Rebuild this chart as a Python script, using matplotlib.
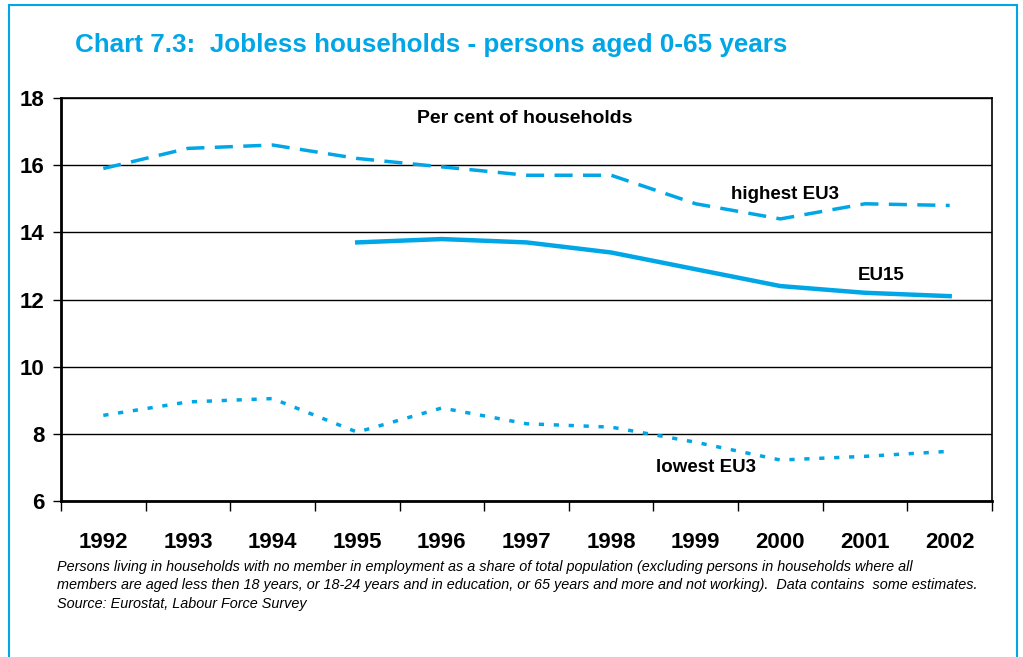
import matplotlib.pyplot as plt
from matplotlib.patches import Rectangle

years = ["1992", "1993", "1994", "1995", "1996", "1997", "1998", "1999", "2000", "2001", "2002"]
highest_eu3 = [15.9, 16.5, 16.6, 16.2, 15.95, 15.7, 15.7, 14.85, 14.4, 14.85, 14.8]
eu15 = [None, None, None, 13.7, 13.8, 13.7, 13.4, 12.9, 12.4, 12.2, 12.1]
lowest_eu3 = [8.55, 8.95, 9.05, 8.05, 8.77, 8.3, 8.2, 7.75, 7.22, 7.33, 7.48]

blue = "#00a6e6"
font = ["Liberation Sans", "DejaVu Sans"]

fig = plt.figure(figsize=(10.23, 6.57), dpi=100)
ax = fig.add_axes([61 / 1023, 1 - 501 / 657, 931 / 1023, 403 / 657])

x = list(range(len(years)))
eu15_x = [i for i, v in zip(x, eu15) if v is not None]
eu15_y = [v for v in eu15 if v is not None]

ax.plot(x, highest_eu3, color=blue, lw=2.5, dashes=(5.2, 3))
ax.plot(eu15_x, eu15_y, color=blue, lw=3.2)
ax.plot(x, lowest_eu3, color=blue, lw=2.5, dashes=(1.5, 2.8))

ax.set_xlim(-0.5, len(years) - 0.5)
ax.set_ylim(6, 18)
ax.set_yticks([6, 8, 10, 12, 14, 16, 18])
ax.set_xticks([i - 0.5 for i in range(len(years) + 1)], minor=False)
ax.set_xticklabels([])
ax.set_xticks(x, minor=True)
ax.set_xticklabels(years, minor=True)
ax.tick_params(axis="x", which="minor", length=0, pad=22)
ax.tick_params(axis="x", which="major", length=7, width=1, direction="out")
ax.tick_params(axis="y", length=6, width=1, direction="out", pad=6)
for lab in ax.get_xticklabels(minor=True) + ax.get_yticklabels():
    lab.set_fontweight("bold")
    lab.set_fontsize(16)
    lab.set_family(font)

ax.grid(axis="y", color="black", lw=1)
ax.set_axisbelow(True)
for s in ax.spines.values():
    s.set_linewidth(1.2)
ax.spines["left"].set_linewidth(2)
ax.spines["bottom"].set_linewidth(2)

ax.text(4.98, 17.4, "Per cent of households", ha="center", va="center",
        fontsize=14, fontweight="bold", family=font)
ax.text(8.05, 15.14, "highest EU3", ha="center", va="center",
        fontsize=13.5, fontweight="bold", family=font)
ax.text(9.19, 12.7, "EU15", ha="center", va="center",
        fontsize=13.5, fontweight="bold", family=font)
ax.text(7.12, 6.99, "lowest EU3", ha="center", va="center",
        fontsize=13.5, fontweight="bold", family=font)

fig.text(75 / 1023, 1 - 45 / 657, "Chart 7.3:  Jobless households - persons aged 0-65 years",
         color=blue, fontsize=18.7, fontweight="bold", family=font, va="center")

note = ("Persons living in households with no member in employment as a share of total population (excluding persons in households where all\n"
        "members are aged less then 18 years, or 18-24 years and in education, or 65 years and more and not working).  Data contains  some estimates.\n"
        "Source: Eurostat, Labour Force Survey")
fig.text(57 / 1023, 1 - 560 / 657, note, fontsize=10.4, style="italic", family=font,
         va="top", linespacing=1.4)

fig.patches.append(Rectangle((9 / 1023, -0.05), 1008 / 1023, 1.05 - 5 / 657,
                             transform=fig.transFigure, fill=False,
                             edgecolor=blue, lw=1.5))

fig.savefig("out.png", dpi=100)
